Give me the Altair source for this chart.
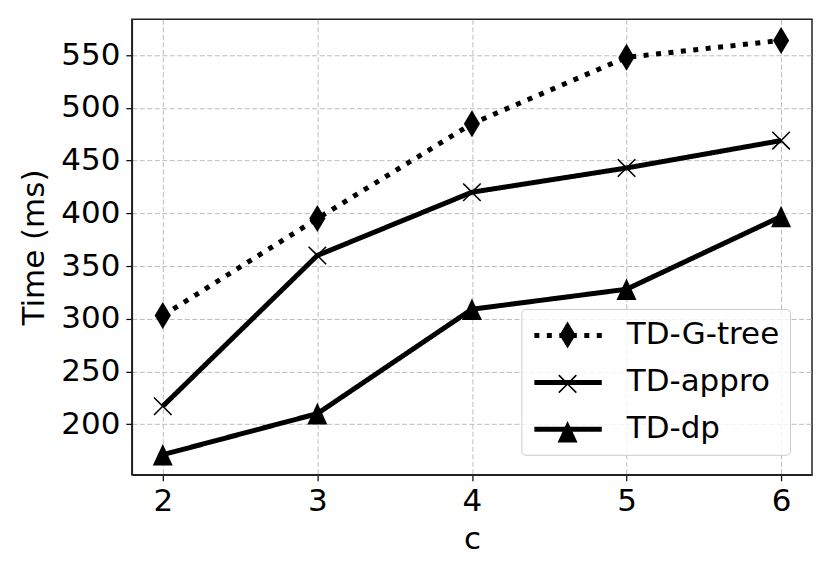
import math
import altair as alt
import pandas as pd

c_values = [2, 3, 4, 5, 6]
series_names = ["TD-G-tree", "TD-appro", "TD-dp"]
td_gtree = [303, 395, 485, 548, 564]
td_appro = [217, 360, 420, 443, 469]
td_dp = [171, 210, 309, 328, 397]
y_ticks = [200, 250, 300, 350, 400, 450, 500, 550]

rows = []
for name, vals in zip(series_names, [td_gtree, td_appro, td_dp]):
    for c, v in zip(c_values, vals):
        rows.append({"c": c, "time": v, "series": name, "marker": name})
df = pd.DataFrame(rows)

FONT = "DejaVu Sans"
FS = 31
S = 729  # symbol area -> 27 px box
LW = 5


def x_polygon(a=0.65, h=0.058):
    """Thin filled 'x' marker outline in the unit symbol box."""
    e = h / math.sqrt(2)
    d = h * math.sqrt(2)
    pts = [
        (0, -d), (a - e, -a - e), (a + e, -a + e),
        (d, 0), (a + e, a - e), (a - e, a + e),
        (0, d), (-a + e, a + e), (-a - e, a - e),
        (-d, 0), (-a - e, -a + e), (-a + e, -a - e),
    ]
    return "M" + "L".join(f"{x:.3f},{y:.3f}" for x, y in pts) + "Z"


diamond = "M0,-1L0.6,0L0,1L-0.6,0Z"
xmark = x_polygon()
tri = "M0,-0.8L0.74,0.8L-0.74,0.8Z"

LX, LY = 390, 290
PAD = 10.5
ROWPAD = 16

x_enc = alt.X("c:Q", scale=alt.Scale(domain=[1.8, 6.2], nice=False, zero=False),
              axis=alt.Axis(values=c_values, format="d", title="c", titlePadding=8))
y_enc = alt.Y("time:Q", scale=alt.Scale(domain=[152, 584], nice=False, zero=False),
              axis=alt.Axis(values=y_ticks, format="d", title="Time (ms)", titlePadding=10))

base = alt.Chart(df)

lines = base.mark_line(strokeWidth=LW, color="black", strokeCap="butt", strokeJoin="round").encode(
    x=x_enc, y=y_enc,
    strokeDash=alt.StrokeDash(
        "series:N",
        sort=series_names,
        scale=alt.Scale(range=[[5, 7.5], [1, 0], [1, 0]]),
        legend=alt.Legend(
            title=None, orient="none", legendX=LX, legendY=LY,
            symbolType="M-1,0H4", symbolSize=S, symbolStrokeWidth=LW,
            symbolStrokeColor="black", symbolFillColor="transparent",
            labelFont=FONT, labelFontSize=FS, labelColor="black", labelOffset=63,
            labelExpr="datum.label + ' '",
            rowPadding=ROWPAD, padding=PAD, strokeColor="#cccccc",
            fillColor="rgba(255,255,255,0.8)", cornerRadius=4,
        ),
    ),
)

points = base.mark_point(filled=True, color="black", opacity=1, size=S).encode(
    x=x_enc, y=y_enc,
    shape=alt.Shape(
        "marker:N",
        sort=series_names,
        scale=alt.Scale(range=[diamond, xmark, tri]),
        legend=alt.Legend(
            title=None, orient="none", legendX=LX + 20.25, legendY=LY,
            symbolSize=S, symbolFillColor="black",
            labelFont=FONT, labelFontSize=FS, labelOpacity=0, labelOffset=10,
            labelExpr="' '",
            rowPadding=ROWPAD, padding=PAD, strokeColor="transparent",
            fillColor="transparent",
        ),
    ),
)

chart = alt.layer(lines, points).properties(
    width=681, height=456,
    padding={"left": 10, "top": 11, "right": 10, "bottom": 5},
).configure_axis(
    labelFont=FONT, labelFontSize=FS, labelColor="black",
    titleFont=FONT, titleFontSize=FS, titleFontWeight="normal", titleColor="black",
    tickColor="black", tickSize=6, tickWidth=1.2, labelPadding=6,
    domainColor="#222222", domainWidth=1.5,
    gridColor="#bdbdbd", gridDash=[5, 2.5], gridWidth=1,
).configure_view(stroke="#222222", strokeWidth=1.5)

chart.save("out.html", embed_options={"renderer": "svg", "actions": False})
